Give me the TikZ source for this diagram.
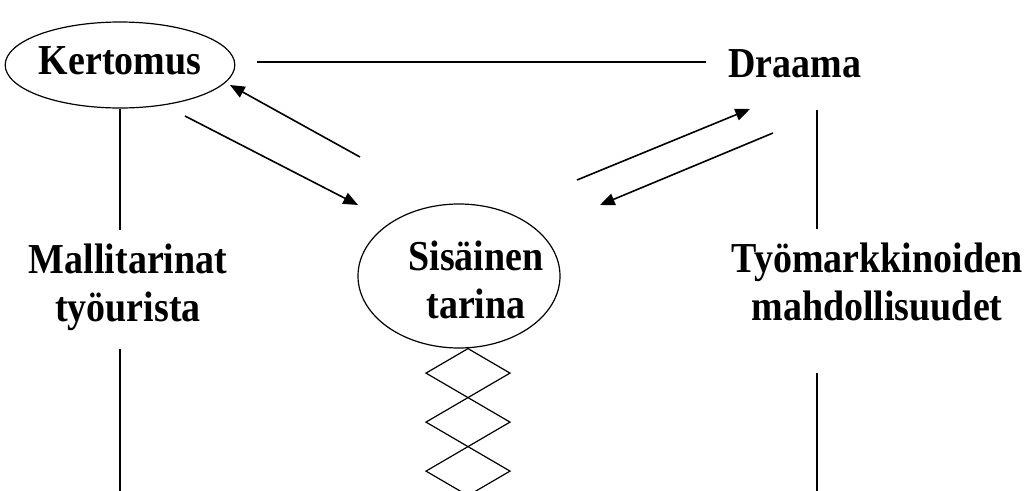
\documentclass[tikz,border=0pt]{standalone}
\usepackage{fontspec}
\setmainfont{Liberation Serif}
\newfontfamily\lblfont{Liberation Serif}[FakeStretch=0.89]
\usetikzlibrary{arrows.meta,shapes.geometric}
\begin{document}
\begin{tikzpicture}[x=0.75pt,y=-0.75pt,
  lbl/.style={font=\lblfont\bfseries\fontsize{32pt}{36pt}\selectfont, inner sep=0pt, align=center},
  oval/.style={ellipse, draw, line width=0.9pt, inner sep=0pt},
  conn/.style={line width=1.2pt},
  arr/.style={conn, -{Triangle[length=11pt,width=9pt]}},
  zig/.style={line width=0.9pt, line join=miter}]
\clip (0,0) rectangle (1032,490);
\fill[white] (0,0) rectangle (1032,490);

% the three story sources (multi-line labels are placed by their last baseline)
\node[oval, lbl, minimum width=165pt, minimum height=64.5pt, text depth=6.7pt]
  (kertomus) at (120,65) {Kertomus};
\node[lbl, anchor=base] (draama) at (795,77) {Draama};
\node[oval, minimum width=151.5pt, minimum height=108pt] (sisainen) at (459,276) {};
\node[lbl, anchor=base] (sisainenlabel) at (476,318) {Sisäinen\\tarina};
\node[lbl, anchor=base] (malli) at (128,321) {Mallitarinat\\työurista};
\node[lbl, anchor=base] (tyo) at (877,320) {Työmarkkinoiden\\mahdollisuudet};

% top connecting line
\coordinate (kd) at ([shift={(22,-3)}]kertomus.east);
\draw[conn, shorten >=16.5pt] (kd) -- (kd -| draama.west);

% left column
\draw[conn, shorten >=10pt] (kertomus.south) -- (kertomus.south |- malli.north);
\coordinate (kfoot) at (120,495);
\draw[conn, shorten <=14pt] (kertomus.south |- malli.south) -- (kfoot);

% right column
\coordinate (rx) at (817,0);
\draw[conn, shorten <=24pt, shorten >=10pt] (draama.south -| rx) -- (tyo.north -| rx);
\coordinate (dfoot) at (817,495);
\draw[conn, shorten <=39pt] (tyo.south -| rx) -- (dfoot);

% exchange arrows
\coordinate (a1s) at (360,157); \coordinate (a1e) at (230,85);
\coordinate (a2s) at (185,116); \coordinate (a2e) at (358,205);
\coordinate (a3s) at (577,180); \coordinate (a3e) at (750,109);
\coordinate (a4s) at (773,133); \coordinate (a4e) at (600,205);
\draw[arr] (a1s) -- (a1e);
\draw[arr] (a2s) -- (a2e);
\draw[arr] (a3s) -- (a3e);
\draw[arr] (a4s) -- (a4e);

% chain of diamonds below the inner story
\coordinate (z0) at ([xshift=6.75pt]sisainen.south);
\foreach \k in {0,1,2}
  \draw[zig] ([yshift=-\k*36.75pt]z0) -- ++(42,24.5) -- ++(-42,24.5) -- ++(-42,-24.5) -- cycle;
\end{tikzpicture}
\end{document}
